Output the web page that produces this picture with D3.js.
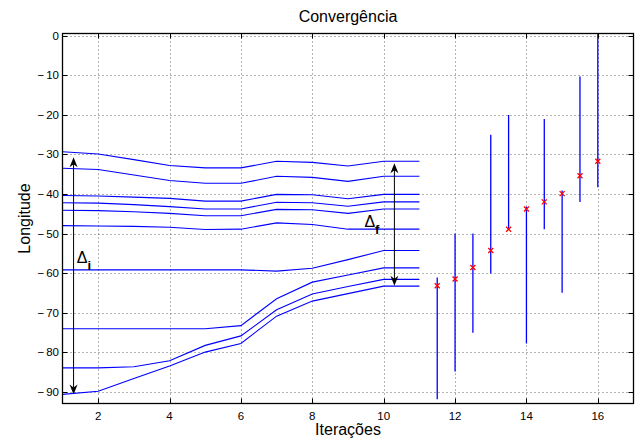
<!DOCTYPE html>
<html>
<head>
<meta charset="utf-8">
<script src="https://cdn.jsdelivr.net/npm/d3@7"></script>
<style>
  html, body { margin: 0; padding: 0; background: #fff; }
  svg text { font-family: "Liberation Sans", Arial, Helvetica, sans-serif; }
</style>
</head>
<body>
<div id="chart"></div>
<script>
// iteration index for the trajectories
const iteracoes = [1, 2, 3, 4, 5, 6, 7, 8, 9, 10, 11];

// longitude of each trajectory (one array per line)
const trajetorias = [
  [-29.3, -29.9, -31.3, -32.8, -33.4, -33.4, -31.7, -32.0, -32.9, -31.7, -31.7],
  [-33.5, -33.8, -35.2, -36.6, -37.3, -37.3, -35.5, -35.8, -36.8, -35.5, -35.5],
  [-40.4, -40.5, -40.8, -41.1, -41.8, -41.8, -40.1, -40.2, -41.2, -40.1, -40.1],
  [-42.2, -42.3, -42.7, -43.2, -43.8, -43.8, -42.1, -42.2, -43.1, -42.0, -42.0],
  [-44.1, -44.2, -44.5, -44.9, -45.5, -45.5, -43.9, -44.0, -44.9, -43.8, -43.8],
  [-48.0, -48.1, -48.2, -48.4, -49.0, -48.9, -47.3, -47.7, -48.9, -48.9, -48.9],
  [-59.2, -59.2, -59.2, -59.2, -59.2, -59.2, -59.5, -58.8, -56.6, -54.3, -54.3],
  [-74.1, -74.1, -74.1, -74.1, -74.1, -73.3, -66.5, -62.3, -60.5, -58.7, -58.7],
  [-84.0, -84.0, -83.7, -82.2, -78.3, -75.9, -69.3, -65.3, -63.4, -61.6, -61.6],
  [-90.7, -89.9, -86.7, -83.5, -80.0, -77.8, -70.9, -67.1, -65.2, -63.3, -63.3]
];

// error bars (x, estimate, lower, upper)
const ebX    = [11.5, 12, 12.5, 13, 13.5, 14, 14.5, 15, 15.5, 16];
const ebMid  = [-63.2, -61.5, -58.6, -54.3, -48.9, -43.8, -42.0, -39.9, -35.4, -31.7];
const ebLow  = [-91.9, -84.9, -75.1, -60.1, -48.9, -77.8, -48.9, -65.0, -42.0, -38.3];
const ebHigh = [-61.1, -50.0, -50.0, -25.0, -20.0, -43.2, -21.0, -39.1, -10.3, 1.0];

// axis ticks
const xTicks = [2, 4, 6, 8, 10, 12, 14, 16];
const yTicks = [0, -10, -20, -30, -40, -50, -60, -70, -80, -90];

const W = 637, H = 439;
const mLeft = 62.5, mRight = 633.5, mTop = 33.5, mBottom = 403.5;

const svg = d3.select("#chart").append("svg")
  .attr("width", W).attr("height", H);

const x = d3.scaleLinear().domain([1, 17]).range([mLeft, mRight]);
const y = d3.scaleLinear().domain([-93, 0.6]).range([mBottom, mTop]);

svg.append("defs").append("clipPath").attr("id", "plotclip")
  .append("rect").attr("x", mLeft).attr("y", mTop)
  .attr("width", mRight - mLeft).attr("height", mBottom - mTop);

// grid (dotted)
const grid = svg.append("g").attr("stroke", "#666").attr("stroke-dasharray", "1,3")
  .attr("stroke-width", 1);
xTicks.forEach(t => {
  grid.append("line").attr("x1", Math.round(x(t)) + 0.5).attr("x2", Math.round(x(t)) + 0.5)
    .attr("y1", mTop).attr("y2", mBottom);
});
yTicks.forEach(t => {
  grid.append("line").attr("y1", Math.round(y(t)) + 0.5).attr("y2", Math.round(y(t)) + 0.5)
    .attr("x1", mLeft).attr("x2", mRight);
});

const plot = svg.append("g").attr("clip-path", "url(#plotclip)");

// trajectories
const line = d3.line().x((d, i) => x(iteracoes[i])).y(d => y(d));
plot.selectAll("path.traj").data(trajetorias).join("path")
  .attr("class", "traj")
  .attr("d", line)
  .attr("fill", "none")
  .attr("stroke", "#0000ff")
  .attr("stroke-width", 1.1);

// error bars
plot.selectAll("line.eb").data(ebX).join("line")
  .attr("class", "eb")
  .attr("x1", d => x(d)).attr("x2", d => x(d))
  .attr("y1", (d, i) => y(ebLow[i])).attr("y2", (d, i) => y(ebHigh[i]))
  .attr("stroke", "#0000ff").attr("stroke-width", 1.3);

const mk = 2.5;
const marks = plot.selectAll("g.mk").data(ebX).join("g")
  .attr("class", "mk")
  .attr("transform", (d, i) => `translate(${x(d)},${y(ebMid[i])})`);
marks.append("path")
  .attr("d", `M${-mk},${-mk}L${mk},${mk}M${-mk},${mk}L${mk},${-mk}`)
  .attr("stroke", "#ff0000").attr("stroke-width", 1.3);

// double arrows (Δi, Δf)
function arrow(xv, y1v, y2v) {
  const g = svg.append("g");
  const px = x(xv);
  g.append("line").attr("x1", px).attr("x2", px)
    .attr("y1", y(y1v) + 6).attr("y2", y(y2v) - 6)
    .attr("stroke", "#000").attr("stroke-width", 1);
  const head = "M0,0L-4,10L0,7L4,10Z";
  g.append("path").attr("d", head).attr("fill", "#000")
    .attr("transform", `translate(${px},${y(y1v)})`);
  g.append("path").attr("d", head).attr("fill", "#000")
    .attr("transform", `translate(${px},${y(y2v)}) rotate(180)`);
}
arrow(1.31, -30.7, -90.7);
arrow(10.3, -32.2, -63.2);

function delta(xv, yv, sub) {
  const t = svg.append("text")
    .attr("x", x(xv)).attr("y", y(yv))
    .attr("font-size", 16).attr("fill", "#000");
  t.append("tspan").text("\u0394");
  t.append("tspan").attr("dy", 7).attr("font-size", 13).attr("font-weight", "bold").text(sub);
}
delta(1.4, -57.4, "i");
delta(9.46, -48.3, "f");

// axes box
svg.append("rect").attr("x", mLeft).attr("y", mTop)
  .attr("width", mRight - mLeft).attr("height", mBottom - mTop)
  .attr("fill", "none").attr("stroke", "#000").attr("stroke-width", 1.3);

// inward ticks on all sides
const tk = svg.append("g").attr("stroke", "#000").attr("stroke-width", 1);
const tl = 5;
xTicks.forEach(t => {
  const px = Math.round(x(t)) + 0.5;
  tk.append("line").attr("x1", px).attr("x2", px).attr("y1", mBottom).attr("y2", mBottom - tl);
  tk.append("line").attr("x1", px).attr("x2", px).attr("y1", mTop).attr("y2", mTop + tl);
});
yTicks.forEach(t => {
  const py = Math.round(y(t)) + 0.5;
  tk.append("line").attr("y1", py).attr("y2", py).attr("x1", mLeft).attr("x2", mLeft + tl);
  tk.append("line").attr("y1", py).attr("y2", py).attr("x1", mRight).attr("x2", mRight - tl);
});

// tick labels
svg.append("g").selectAll("text").data(xTicks).join("text")
  .attr("x", d => x(d)).attr("y", mBottom + 16)
  .attr("text-anchor", "middle").attr("font-size", 11.5).attr("fill", "#000")
  .text(d => d);
const yLab = svg.append("g").selectAll("text").data(yTicks).join("text")
  .attr("x", mLeft - 3.5).attr("y", d => y(d) + 4)
  .attr("text-anchor", "end").attr("font-size", 11.5).attr("fill", "#000");
yLab.each(function(d) {
  const t = d3.select(this);
  if (d < 0) {
    t.append("tspan").text("\u2212");
    t.append("tspan").attr("dx", 2).text(Math.abs(d));
  } else {
    t.text(d);
  }
});

// titles
svg.append("text").attr("x", (mLeft + mRight) / 2).attr("y", 22)
  .attr("text-anchor", "middle").attr("font-size", 16).text("Convergência");
svg.append("text").attr("x", (mLeft + mRight) / 2).attr("y", 435)
  .attr("text-anchor", "middle").attr("font-size", 16).text("Iterações");
svg.append("text")
  .attr("transform", `translate(29.5,${(mTop + mBottom) / 2}) rotate(-90)`)
  .attr("text-anchor", "middle").attr("font-size", 16).text("Longitude");
</script>
</body>
</html>
